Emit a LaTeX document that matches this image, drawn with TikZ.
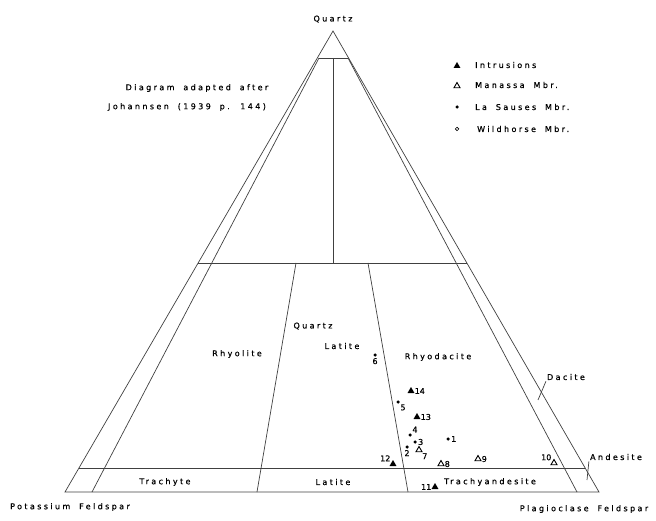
\documentclass[tikz,border=0pt]{standalone}
\usepackage{fontspec}
\setmainfont{DejaVu Sans}[LetterSpace=30, WordSpace=1.8, FakeBold=0.6]
\newfontfamily\numfont{DejaVu Sans}[FakeBold=0.6]
\usetikzlibrary{shapes.geometric,positioning}

\tikzset{
  lbl/.style={font=\fontsize{8}{9}\selectfont, inner sep=1pt},
  num/.style={font=\numfont\fontsize{8}{9}\selectfont, inner sep=0.5pt},
  bound/.style={line width=0.7pt, black!75},
  intr/.style={regular polygon, regular polygon sides=3, fill=black, inner sep=0pt, minimum size=8pt},
  mana/.style={regular polygon, regular polygon sides=3, draw=black, line width=0.9pt, inner sep=0pt, minimum size=7pt},
  laso/.style={circle, fill=black, inner sep=0pt, minimum size=3.5pt},
  wild/.style={circle, draw=black, line width=0.7pt, inner sep=0pt, minimum size=3.5pt},
}

\begin{document}
\begin{tikzpicture}[x=1pt,y=-1pt]
        \useasboundingbox (0,0) rectangle (656,521);

        % Corner points
        \coordinate (apex) at (333,31);
        \coordinate (quartzleft) at (319,58);
        \coordinate (quartzright) at (348,58);
        \coordinate (quartzmid) at (333,58);
        \coordinate (potassium) at (65,492);
        \coordinate (potassiuminner) at (92,492);
        \coordinate (plagioclase) at (599,492);
        \coordinate (plagioclaseinner) at (577,492);
        \coordinate (midleft) at (198,263);
        \coordinate (midright) at (467,263);
        \coordinate (midcentre) at (333,263);
        \coordinate (latiteleft) at (296,263);
        \coordinate (latiteright) at (368,263);
        \coordinate (trachyteleft) at (257,492);
        \coordinate (trachyteright) at (408,492);
        \coordinate (bandleft) at (79,468);
        \coordinate (bandright) at (585,468);
        \coordinate (dacitetick) at (538,400);
        \coordinate (andesitetick) at (587,480);

        % Text Nodes (without boxes)
        \node[lbl] (quartz) at (333,19) {Quartz};
        \node[lbl] (adapted) at (197,88) {Diagram adapted after};
        \node[lbl] (johannsen) at (187,107) {Johannsen (1939 p. 144)};
        \node[lbl] (rhyolite) at (237,354) {Rhyolite};
        \node[lbl] (quartzlatite) at (313,326) {Quartz};
        \node[lbl] (latitetop) at (342,346) {Latite};
        \node[lbl] (rhyodacite) at (438,357) {Rhyodacite};
        \node[lbl] (dacite) at (566,377) {Dacite};
        \node[lbl] (andesite) at (616,457) {Andesite};
        \node[lbl] (trachyte) at (165,482) {Trachyte};
        \node[lbl] (latite) at (333,482) {Latite};
        \node[lbl] (trachyandesite) at (490,482) {Trachyandesite};
        \node[lbl] (potassiumfeldspar) at (70,507) {Potassium Feldspar};
        \node[lbl] (plagioclasefeldspar) at (584,509) {Plagioclase Feldspar};

        % Legend
        \node[intr] (keyintrusions) at (457,66) {};
        \node[mana] (keymanassa) at (457,86) {};
        \node[laso] (keylasauses) at (457,107) {};
        \node[wild] (keywildhorse) at (457,129) {};
        \node[lbl, anchor=west] (intrusions) at (474,65) {Intrusions};
        \node[lbl, anchor=west] (manassa) at (474,85) {Manassa Mbr.};
        \node[lbl, anchor=west] (lasauses) at (474,107) {La Sauses Mbr.};
        \node[lbl, anchor=west] (wildhorse) at (476,129) {Wildhorse Mbr.};

        % Boundary lines
        \draw[bound] (potassium) -- (apex) -- (plagioclase) -- cycle;
        \draw[bound] (quartzleft) -- (quartzright);
        \draw[bound] (quartzleft) -- (potassiuminner);
        \draw[bound] (quartzright) -- (plagioclaseinner);
        \draw[bound] (quartzmid) -- (midcentre);
        \draw[bound] (midleft) -- (midright);
        \draw[bound] (latiteleft) -- (trachyteleft);
        \draw[bound] (latiteright) -- (trachyteright);
        \draw[bound] (bandleft) -- (bandright);
        \draw[bound] (dacite.south west) -- (dacitetick);
        \draw[bound] (andesite.south west) -- (andesitetick);

        % Samples
        \node[laso, label={[num, label distance=0.5pt]below:6}] (sample6) at (375,355) {};
        \node[intr, label={[num, label distance=0.5pt]right:14}] (sample14) at (411,391) {};
        \node[laso, label={[num, label distance=0.5pt]below right:5}] (sample5) at (398,402) {};
        \node[intr, label={[num, label distance=0.5pt]right:13}] (sample13) at (417,417) {};
        \node[laso, label={[num, label distance=0.5pt]above right:4}] (sample4) at (410,435) {};
        \node[laso, label={[num, label distance=0.5pt]right:3}] (sample3) at (415,442) {};
        \node[laso, label={[num, label distance=0.5pt]right:1}] (sample1) at (448,439) {};
        \node[laso, label={[num, label distance=0.5pt]below:2}] (sample2) at (407,447) {};
        \node[mana, label={[num, label distance=0.5pt]below right:7}] (sample7) at (419,450) {};
        \node[intr, label={[num, label distance=0.5pt]above left:12}] (sample12) at (393,464) {};
        \node[mana, label={[num, label distance=0.5pt]right:8}] (sample8) at (441,464) {};
        \node[mana, label={[num, label distance=0.5pt]right:9}] (sample9) at (478,459) {};
        \node[mana, label={[num, label distance=0.5pt]above left:10}] (sample10) at (554,463) {};
        \node[intr, label={[num, label distance=0.5pt]left:11}] (sample11) at (435,487) {};

    \end{tikzpicture}
\end{document}
